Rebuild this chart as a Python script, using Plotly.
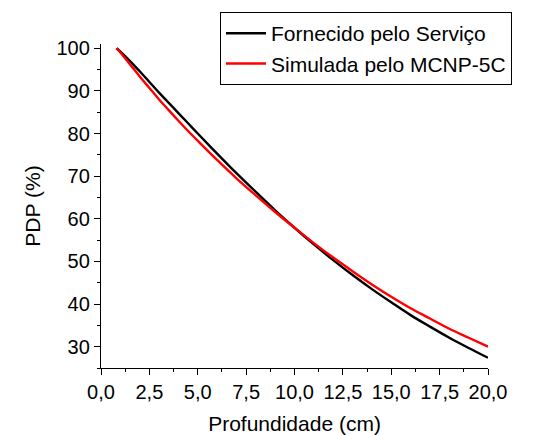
import plotly.graph_objects as go

depth = [0.8, 1, 1.5, 2, 2.5, 3, 3.5, 4, 4.5, 5, 6, 7, 8, 9, 10, 11, 12, 13, 14, 15, 16, 17, 18, 19, 20]
fornecido = [100, 99.2, 97.0, 94.6, 92.1, 89.6, 87.2, 84.8, 82.4, 80.0, 75.3, 70.7, 66.3, 62.0, 57.9,
             54.0, 50.3, 46.8, 43.5, 40.4, 37.4, 34.7, 32.1, 29.7, 27.4]
simulada = [100, 99.0, 96.2, 93.4, 90.7, 88.0, 85.5, 83.0, 80.6, 78.3, 73.8, 69.5, 65.5, 61.6, 57.9,
            54.3, 50.9, 47.7, 44.6, 41.7, 39.0, 36.6, 34.2, 32.1, 30.0]

x_ticks = [0, 2.5, 5, 7.5, 10, 12.5, 15, 17.5, 20]
x_ticklabels = ["0,0", "2,5", "5,0", "7,5", "10,0", "12,5", "15,0", "17,5", "20,0"]
y_ticks = [30, 40, 50, 60, 70, 80, 90, 100]

FONT = "Liberation Sans, Arial, sans-serif"

fig = go.Figure()
fig.add_trace(go.Scatter(x=depth, y=fornecido, mode="lines", name="Fornecido pelo Serviço",
                         line=dict(color="#000000", width=2.4, shape="spline")))
fig.add_trace(go.Scatter(x=depth, y=simulada, mode="lines", name="Simulada pelo MCNP-5C",
                         line=dict(color="#ff0000", width=2.4, shape="spline")))

fig.update_layout(
    width=546, height=435,
    margin=dict(l=101, r=58, t=44, b=67, autoexpand=False),
    paper_bgcolor="white", plot_bgcolor="white",
    font=dict(family=FONT, size=20, color="black"),
    showlegend=True,
    legend=dict(x=(220 - 101) / 387, y=(368.3 - 12) / 324.3,
                xanchor="left", yanchor="top",
                bgcolor="white", bordercolor="black", borderwidth=1,
                font=dict(size=21), tracegroupgap=0, itemwidth=40),
    xaxis=dict(range=[0, 20], tickvals=x_ticks, ticktext=x_ticklabels,
               showline=True, linecolor="black", linewidth=1.3, mirror=False,
               ticks="outside", ticklen=6, tickwidth=1.3, tickcolor="black",
               minor=dict(dtick=1.25, ticks="outside", ticklen=3, tickwidth=1.3, tickcolor="black"),
               showgrid=False, zeroline=False,
               title=dict(text="Profundidade (cm)", font=dict(size=21), standoff=14)),
    yaxis=dict(range=[25, 101], tickvals=y_ticks,
               showline=True, linecolor="black", linewidth=1.3, mirror=False,
               ticks="outside", ticklen=6, tickwidth=1.3, tickcolor="black",
               minor=dict(dtick=5, ticks="outside", ticklen=3, tickwidth=1.3, tickcolor="black"),
               showgrid=False, zeroline=False,
               title=dict(text="PDP (%)", font=dict(size=21), standoff=10)),
)

fig.write_html("out.html", config={"displayModeBar": False},
               post_script="document.body.style.margin='0';document.body.style.overflow='hidden';")
